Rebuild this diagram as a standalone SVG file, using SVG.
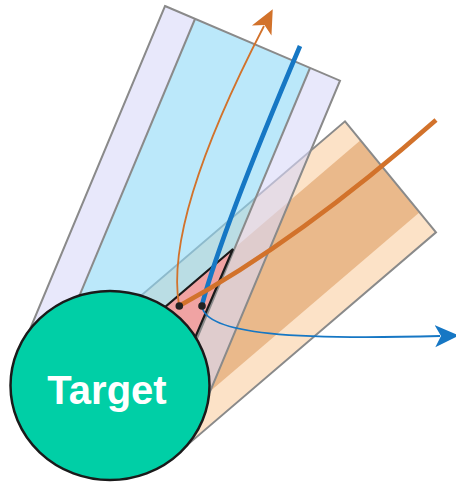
<svg xmlns="http://www.w3.org/2000/svg" width="456" height="482" viewBox="0 0 456 482">
<style>
.edge{stroke:#8a8a8a;stroke-width:2;stroke-linejoin:miter;fill:none}
.or{stroke:#D2722B;fill:none}
.bl{stroke:#1677C4;fill:none}
.dot{fill:#222}
</style>
<defs>
<marker id="ao" markerUnits="userSpaceOnUse" markerWidth="24" markerHeight="24" viewBox="0 0 24 22" refX="5" refY="11" orient="auto">
<path d="M0,0 L24,11 L0,22 L6,11 Z" fill="#D2722B"/>
</marker>
<marker id="ab" markerUnits="userSpaceOnUse" markerWidth="24" markerHeight="24" viewBox="0 0 24 22" refX="5" refY="11" orient="auto">
<path d="M0,0 L24,11 L0,22 L6,11 Z" fill="#1677C4"/>
</marker>
</defs>
<g id="beam-peach">
<polygon points="345,121.3 436,232.3 178,452.9 87,341.8" fill="#FCE2C7"/>
<polygon points="360.5,140.2 419.6,212.3 161.6,432.8 102.5,360.7" fill="#EAB98B"/>
<polygon class="edge" points="345,121.3 436,232.3 178,452.9 87,341.8"/>
</g>
<g id="beam-blue">
<g opacity="0.6">
<polygon points="165,6 340,80.7 197,422.7 22.1,348" fill="#D9D9FA"/>
<polygon points="195,19 310,68 167.1,409.9 52.2,360.8" fill="#8FDAF8"/>
</g>
<polygon class="edge" points="165,6 340,80.7 197,422.7 22.1,348"/>
<polyline class="edge" points="195,19 52.2,360.8"/>
<polyline class="edge" points="310,68 167.1,409.9"/>
</g>
<g id="overlap">
<polygon points="233,249 140,328.5 110,385.5 177,380" fill="#F0A3A3" stroke="#1a1a1a" stroke-width="2.2" stroke-linejoin="miter"/>
</g>
<g id="target">
<ellipse cx="110" cy="385.5" rx="99.5" ry="94.5" fill="#00CFA6" stroke="#1a1a1a" stroke-width="2.5"/>
<text x="107" y="404" font-family="Liberation Sans, Arial, sans-serif" font-weight="bold" font-size="40" fill="#ffffff" text-anchor="middle">Target</text>
</g>
<g id="connectors">
<path class="or" d="M179,305 C168,240 205,140 264,26" stroke-width="1.8" marker-end="url(#ao)"/>
<path class="bl" d="M202,306 C205,335 300,340 440,336" stroke-width="1.8" marker-end="url(#ab)"/>
<path class="bl" d="M202,305 Q222,230 300,46" stroke-width="4.6"/>
<path class="or" d="M179,306 Q300,240 436,120" stroke-width="4.6"/>
<circle class="dot" cx="179.3" cy="306" r="3.8"/>
<circle class="dot" cx="202" cy="306" r="3.8"/>
</g>
</svg>
